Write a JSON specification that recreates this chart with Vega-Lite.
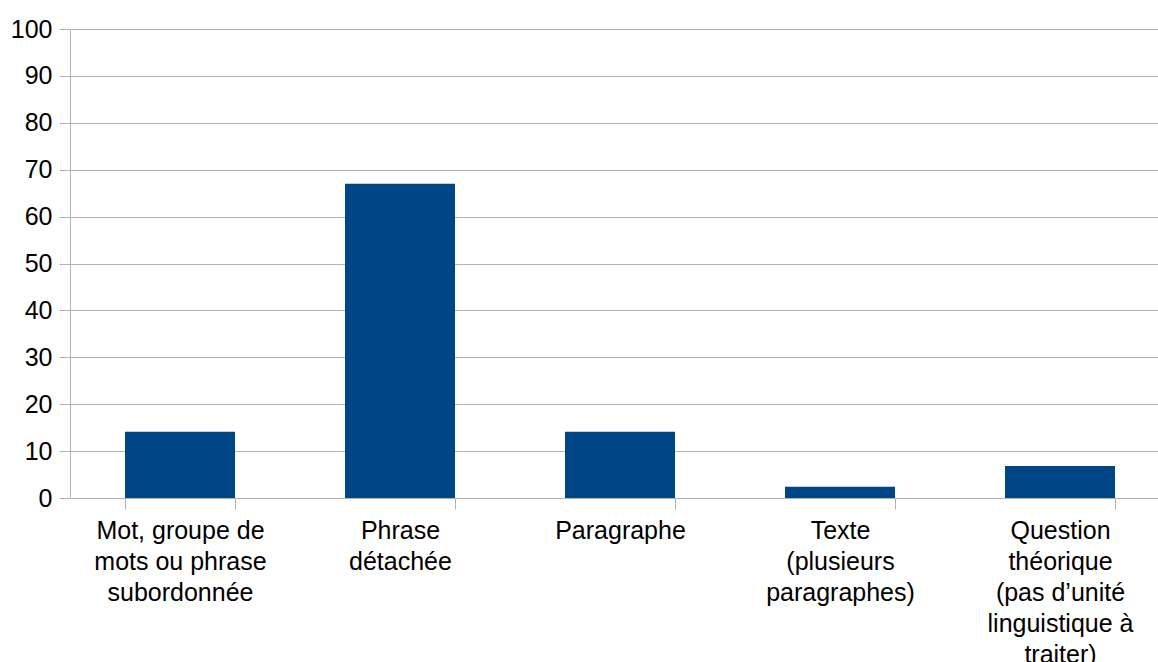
{
  "$schema": "https://vega.github.io/schema/vega-lite/v6.json",
  "width": 1088,
  "height": 469,
  "autosize": "none",
  "padding": {"left": 70, "top": 29, "right": 0, "bottom": 164},
  "background": "white",
  "config": {
    "view": {"stroke": null},
    "font": "Liberation Sans",
    "axis": {"labelFont": "Liberation Sans", "labelColor": "#000000"}
  },
  "data": {
    "values": [
      {"categorie": "Mot, groupe de mots ou phrase subordonnée", "valeur": 14.1},
      {"categorie": "Phrase détachée", "valeur": 67},
      {"categorie": "Paragraphe", "valeur": 14.1},
      {"categorie": "Texte (plusieurs paragraphes)", "valeur": 2.4},
      {"categorie": "Question théorique (pas d’unité linguistique à traiter)", "valeur": 6.8}
    ]
  },
  "mark": {"type": "bar", "color": "#004586"},
  "encoding": {
    "x": {
      "field": "categorie",
      "type": "nominal",
      "sort": null,
      "title": null,
      "scale": {"range": [0, 1100], "paddingInner": 0.5, "paddingOuter": 0.25},
      "axis": {
        "labelAngle": 0,
        "labelFontSize": 25,
        "labelLineHeight": 31,
        "labelBaseline": "top",
        "labelPadding": 9,
        "labelLimit": 300,
        "tickBand": "extent",
        "tickSize": 11,
        "tickColor": "#b3b3b3",
        "domainColor": "#b3b3b3",
        "labelExpr": "datum.label == 'Mot, groupe de mots ou phrase subordonnée' ? ['Mot, groupe de', 'mots ou phrase', 'subordonnée'] : datum.label == 'Phrase détachée' ? ['Phrase', 'détachée'] : datum.label == 'Texte (plusieurs paragraphes)' ? ['Texte', '(plusieurs', 'paragraphes)'] : datum.label == 'Question théorique (pas d’unité linguistique à traiter)' ? ['Question', 'théorique', '(pas d’unité', 'linguistique à', 'traiter)'] : datum.label"
      }
    },
    "y": {
      "field": "valeur",
      "type": "quantitative",
      "title": null,
      "scale": {"domain": [0, 100], "nice": false},
      "axis": {
        "values": [0, 10, 20, 30, 40, 50, 60, 70, 80, 90, 100],
        "labelFontSize": 25,
        "labelPadding": 7,
        "tickSize": 11,
        "tickColor": "#b3b3b3",
        "domainColor": "#b3b3b3",
        "gridColor": "#b3b3b3",
        "grid": true
      }
    }
  }
}
